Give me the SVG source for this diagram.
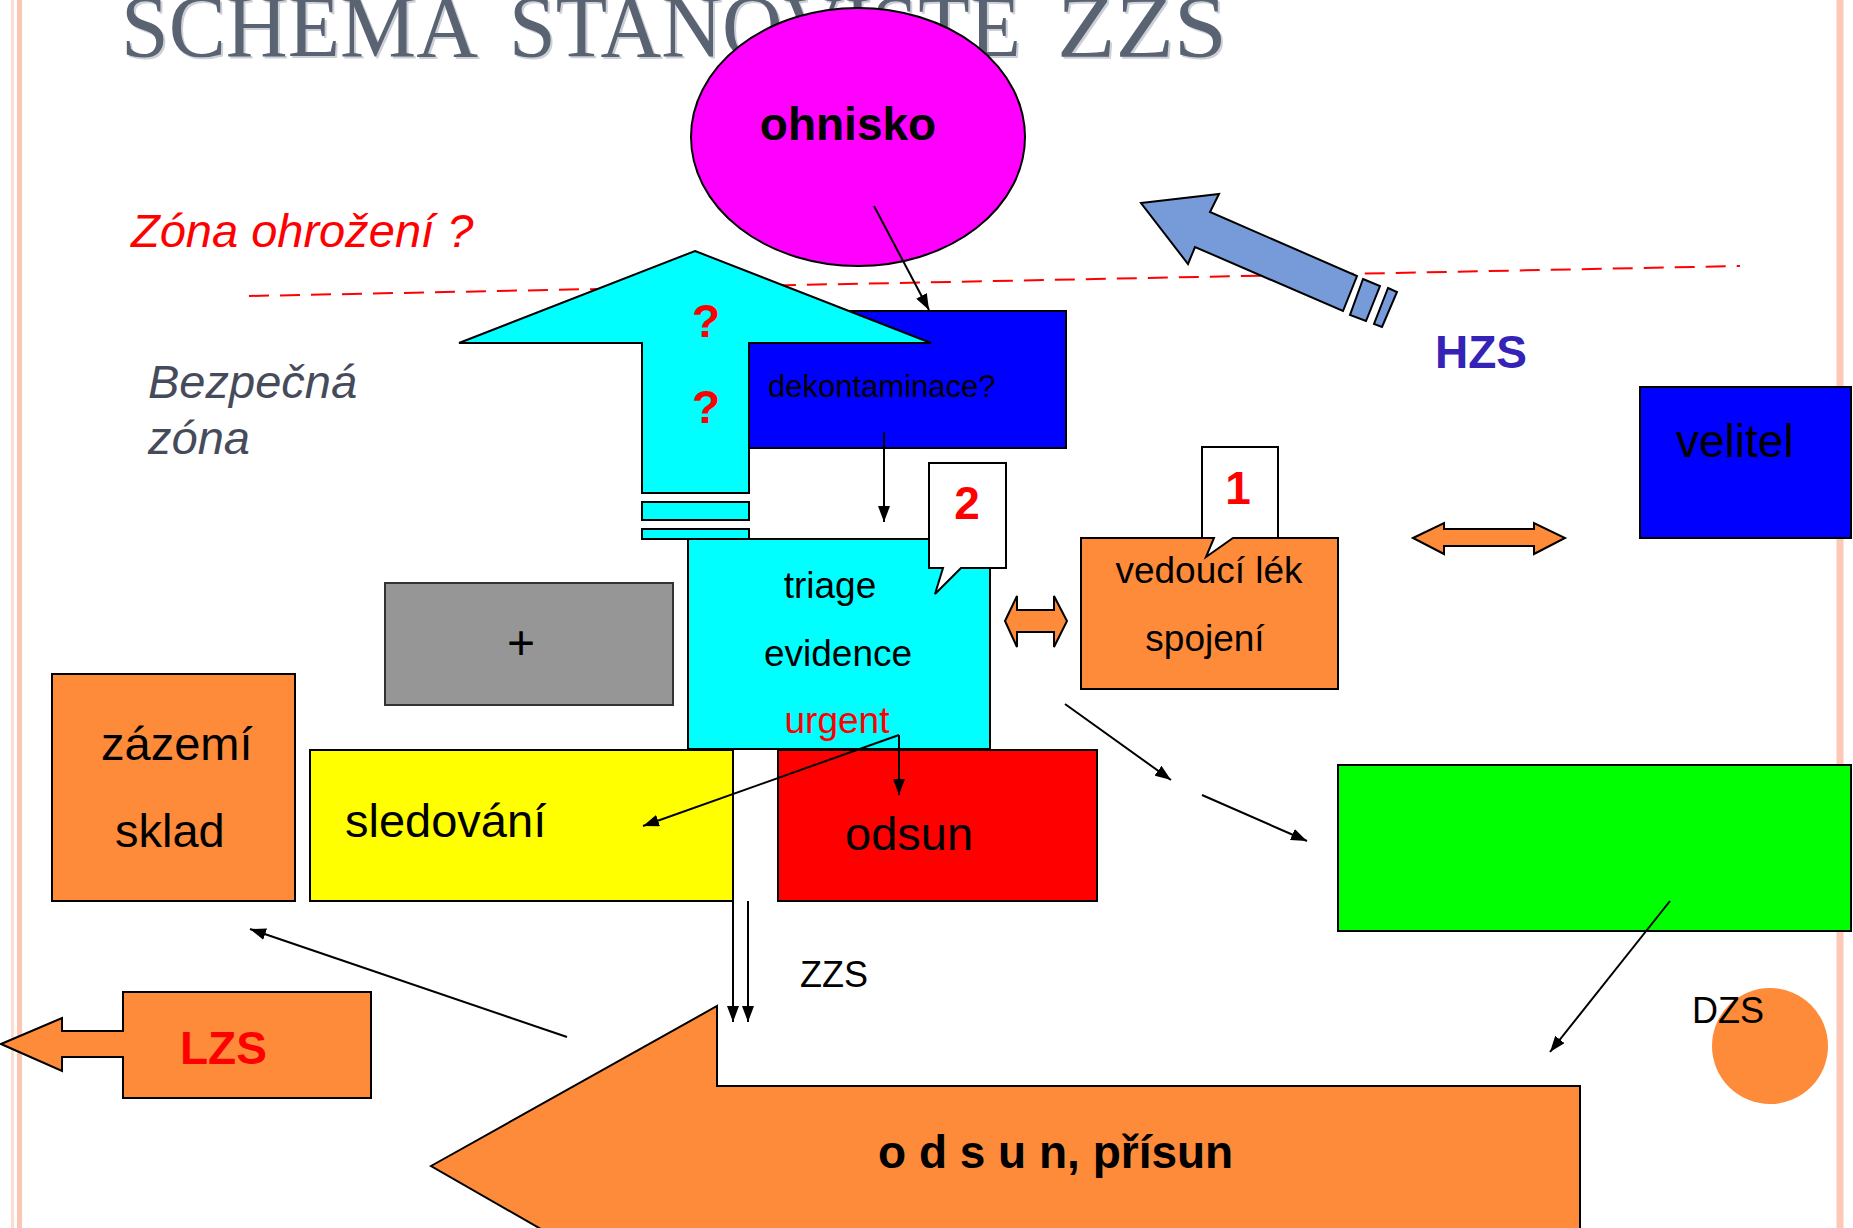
<svg xmlns="http://www.w3.org/2000/svg" width="1853" height="1228" viewBox="0 0 1853 1228">
<defs>
<marker id="ah" markerUnits="userSpaceOnUse" markerWidth="16" markerHeight="12" refX="16" refY="6" orient="auto">
<path d="M0,0 L16,6 L0,12 Z" fill="#000"/>
</marker>
<style>
.t{font-family:"Liberation Sans",Arial,sans-serif;fill:#000}
.b{font-weight:bold}
.i{font-style:italic}
.red{fill:#ff0000}
.mid{text-anchor:middle}
.ttl{font-family:"Liberation Serif","Times New Roman",serif;font-size:88px}
.sh{stroke:#000;stroke-width:2}
.orange{fill:#fd8b3a}
.con{stroke:#000;stroke-width:2;fill:none}
</style>
</defs>
<rect x="0" y="0" width="1853" height="1228" fill="#fff"/>
<g id="borders">
<line x1="12.5" y1="0" x2="12.5" y2="1228" stroke="#fddcd0" stroke-width="3"/>
<line x1="19.5" y1="0" x2="19.5" y2="1228" stroke="#fcc6b5" stroke-width="5"/>
<line x1="1840" y1="0" x2="1840" y2="1228" stroke="#fdc8b8" stroke-width="7"/>
</g>
<g id="title">
<text class="ttl" x="123" y="58" fill="#cdd1d7" textLength="357" lengthAdjust="spacingAndGlyphs">SCHÉMA</text>
<text class="ttl" x="511" y="58" fill="#cdd1d7" textLength="512" lengthAdjust="spacingAndGlyphs">STANOVIŠTĚ</text>
<text class="ttl" x="1059" y="58" fill="#cdd1d7" textLength="170" lengthAdjust="spacingAndGlyphs">ZZS</text>
<text class="ttl" x="121" y="56" fill="#5a6372" textLength="357" lengthAdjust="spacingAndGlyphs">SCHÉMA</text>
<text class="ttl" x="509" y="56" fill="#5a6372" textLength="512" lengthAdjust="spacingAndGlyphs">STANOVIŠTĚ</text>
<text class="ttl" x="1057" y="56" fill="#5a6372" textLength="170" lengthAdjust="spacingAndGlyphs">ZZS</text>
</g>
<g id="zone-labels">
<text class="t i red" x="131" y="247" font-size="47">Zóna ohrožení ?</text>
<text class="t i" x="148" y="398" font-size="47" fill="#464b5b" style="fill:#464b5b">Bezpečná</text>
<text class="t i" x="148" y="454" font-size="47" style="fill:#464b5b">zóna</text>
</g>
<g id="zone-line">
<line x1="249" y1="296" x2="1740" y2="266" stroke="#ff0000" stroke-width="2" stroke-dasharray="20,11"/>
</g>
<g id="ohnisko">
<ellipse cx="858" cy="137" rx="167" ry="129" fill="#ff00ff" stroke="#000" stroke-width="2"/>
<text class="t b mid" x="848" y="140" font-size="46">ohnisko</text>
</g>
<g id="dekontaminace">
<rect x="700" y="311" width="366" height="137" fill="#0000ff" stroke="#000" stroke-width="2"/>
<text class="t" x="768" y="397" font-size="31">dekontaminace?</text>
</g>
<g id="cyan-arrow">
<path class="sh" d="M695,251 L931,343 L749,343 L749,493 L642,493 L642,343 L459,343 Z" fill="#00ffff"/>
<rect class="sh" x="642" y="502" width="107" height="18" fill="#00ffff"/>
<rect class="sh" x="642" y="529" width="107" height="10" fill="#00ffff"/>
<text class="t b red mid" x="706" y="337" font-size="46">?</text>
<text class="t b red mid" x="706" y="423" font-size="46">?</text>
</g>
<g id="hzs-arrow">
<path class="sh" d="M1141,203 L1219,194 L1210,212 L1357,276 L1343,311 L1195,247 L1188,264 Z" fill="#779bd8"/>
<path class="sh" d="M1363,279 L1380,286 L1366,321 L1350,315 Z" fill="#779bd8"/>
<path class="sh" d="M1388,288 L1397,292 L1382,327 L1374,324 Z" fill="#779bd8"/>
<text class="t b" x="1435" y="368" font-size="46" style="fill:#3423b6">HZS</text>
</g>
<g id="triage">
<rect class="sh" x="688" y="539" width="302" height="210" fill="#00ffff"/>
<text class="t mid" x="830" y="598" font-size="37">triage</text>
<text class="t mid" x="838" y="666" font-size="37">evidence</text>
<text class="t red mid" x="837" y="733" font-size="37">urgent</text>
</g>
<g id="callout-2">
<path class="sh" d="M929,463 H1006 V568 H961 L935,594 L943,568 H929 Z" fill="#fff"/>
<text class="t b red mid" x="967" y="519" font-size="46">2</text>
</g>
<g id="plus-box">
<rect x="385" y="583" width="288" height="122" fill="#969696" stroke="#333" stroke-width="2"/>
<text class="t mid" x="521" y="659" font-size="48">+</text>
</g>
<g id="zazemi">
<rect class="sh orange" x="52" y="674" width="243" height="227"/>
<text class="t" x="101" y="760" font-size="47">zázemí</text>
<text class="t" x="115" y="847" font-size="47">sklad</text>
</g>
<g id="sledovani">
<rect class="sh" x="310" y="750" width="423" height="151" fill="#ffff00"/>
<text class="t" x="345" y="837" font-size="47">sledování</text>
</g>
<g id="odsun">
<rect class="sh" x="778" y="750" width="319" height="151" fill="#ff0000"/>
<text class="t" x="845" y="850" font-size="47">odsun</text>
</g>
<g id="vedouci">
<rect class="sh orange" x="1081" y="538" width="257" height="151"/>
<text class="t mid" x="1209" y="583" font-size="37">vedoucí lék</text>
<text class="t mid" x="1205" y="651" font-size="37">spojení</text>
</g>
<g id="callout-1">
<path class="sh" d="M1202,447 H1278 V538 H1233 L1206,557 L1214,538 H1202 Z" fill="#fff"/>
<text class="t b red mid" x="1238" y="504" font-size="46">1</text>
</g>
<g id="velitel">
<rect class="sh" x="1640" y="387" width="211" height="151" fill="#0000ff"/>
<text class="t" x="1676" y="457" font-size="46">velitel</text>
</g>
<g id="green-box">
<rect class="sh" x="1338" y="765" width="513" height="166" fill="#00ff00"/>
</g>
<g id="dzs">
<circle cx="1770" cy="1046" r="58" fill="#fd8b3a"/>
<text class="t" x="1692" y="1023" font-size="36">DZS</text>
</g>
<g id="lzs">
<path class="sh orange" d="M123,992 H371 V1098 H123 V1057 H62 V1071 L1,1044 L62,1018 V1031 H123 Z"/>
<text class="t b red" x="180" y="1064" font-size="46">LZS</text>
</g>
<g id="odsun-prisun">
<path class="sh orange" d="M431,1166 L717,1006 L717,1086 L1580,1086 L1580,1250 L717,1250 L717,1330 Z"/>
<text class="t b" x="878" y="1168" font-size="46">o d s u n, přísun</text>
</g>
<g id="double-arrows">
<path class="sh orange" d="M1005,621 L1017,596 V610 H1054 V596 L1067,621 L1054,647 V632 H1017 V647 Z"/>
<path class="sh orange" d="M1413,538 L1444,523 V529 H1534 V523 L1565,538 L1534,554 V546 H1444 V554 Z"/>
</g>
<g id="connectors">
<line class="con" x1="874" y1="206" x2="929" y2="310" marker-end="url(#ah)"/>
<line class="con" x1="884" y1="432" x2="884" y2="522" marker-end="url(#ah)"/>
<line class="con" x1="899" y1="735" x2="899" y2="795" marker-end="url(#ah)"/>
<line class="con" x1="899" y1="735" x2="643" y2="826" marker-end="url(#ah)"/>
<line class="con" x1="733" y1="901" x2="733" y2="1022" marker-end="url(#ah)"/>
<line class="con" x1="748" y1="901" x2="748" y2="1022" marker-end="url(#ah)"/>
<line class="con" x1="567" y1="1037" x2="250" y2="929" marker-end="url(#ah)"/>
<line class="con" x1="1065" y1="704" x2="1171" y2="780" marker-end="url(#ah)"/>
<line class="con" x1="1202" y1="795" x2="1307" y2="841" marker-end="url(#ah)"/>
<line class="con" x1="1670" y1="901" x2="1550" y2="1052" marker-end="url(#ah)"/>
<text class="t" x="800" y="987" font-size="36">ZZS</text>
</g>
</svg>
